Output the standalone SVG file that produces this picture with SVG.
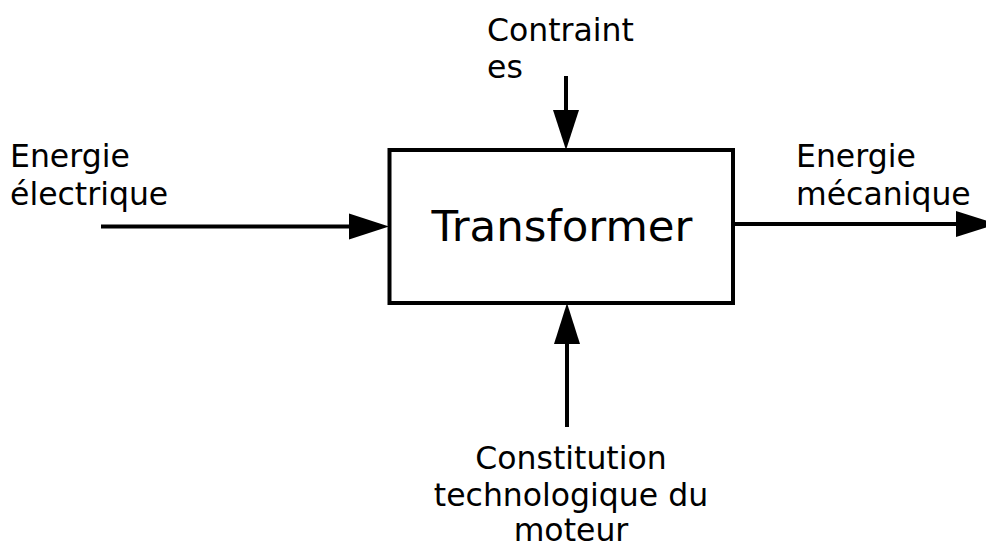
<svg xmlns="http://www.w3.org/2000/svg" width="986" height="543" viewBox="0 0 986 543">
<style>
text{font-family:"DejaVu Sans","Liberation Sans",sans-serif;fill:#000}
.lbl{font-size:31.5px}
.main{font-size:43.5px}
.ln{stroke:#000;stroke-width:4;fill:none}
.hd{fill:#000;stroke:none}
</style>
<rect width="986" height="543" fill="#fff"/>
<g id="connectors">
  <line class="ln" x1="101" y1="226.5" x2="352" y2="226.5"/>
  <polygon class="hd" points="389,226.5 349,213.5 349,239.5"/>
  <line class="ln" x1="733" y1="224" x2="960" y2="224"/>
  <polygon class="hd" points="997,224 956,211 956,237"/>
  <line class="ln" x1="566" y1="76" x2="566" y2="112"/>
  <polygon class="hd" points="566,150 553,110 579,110"/>
  <line class="ln" x1="567" y1="427" x2="567" y2="341"/>
  <polygon class="hd" points="567,303 554,344 580,344"/>
</g>
<g id="node-transformer">
  <rect x="389.5" y="150" width="343.5" height="153" fill="#fff" stroke="#000" stroke-width="4"/>
  <text class="main" x="562" y="241" text-anchor="middle">Transformer</text>
</g>
<g id="label-energie-electrique">
  <text class="lbl" x="10" y="167">Energie</text>
  <text class="lbl" x="10" y="205">électrique</text>
</g>
<g id="label-energie-mecanique">
  <text class="lbl" x="796" y="167">Energie</text>
  <text class="lbl" x="796" y="205">mécanique</text>
</g>
<g id="label-contraintes">
  <text class="lbl" x="487" y="41">Contraint</text>
  <text class="lbl" x="487" y="78">es</text>
</g>
<g id="label-constitution">
  <text class="lbl" x="571" y="469" text-anchor="middle">Constitution</text>
  <text class="lbl" x="571" y="506" text-anchor="middle">technologique du</text>
  <text class="lbl" x="571" y="541" text-anchor="middle">moteur</text>
</g>
</svg>
